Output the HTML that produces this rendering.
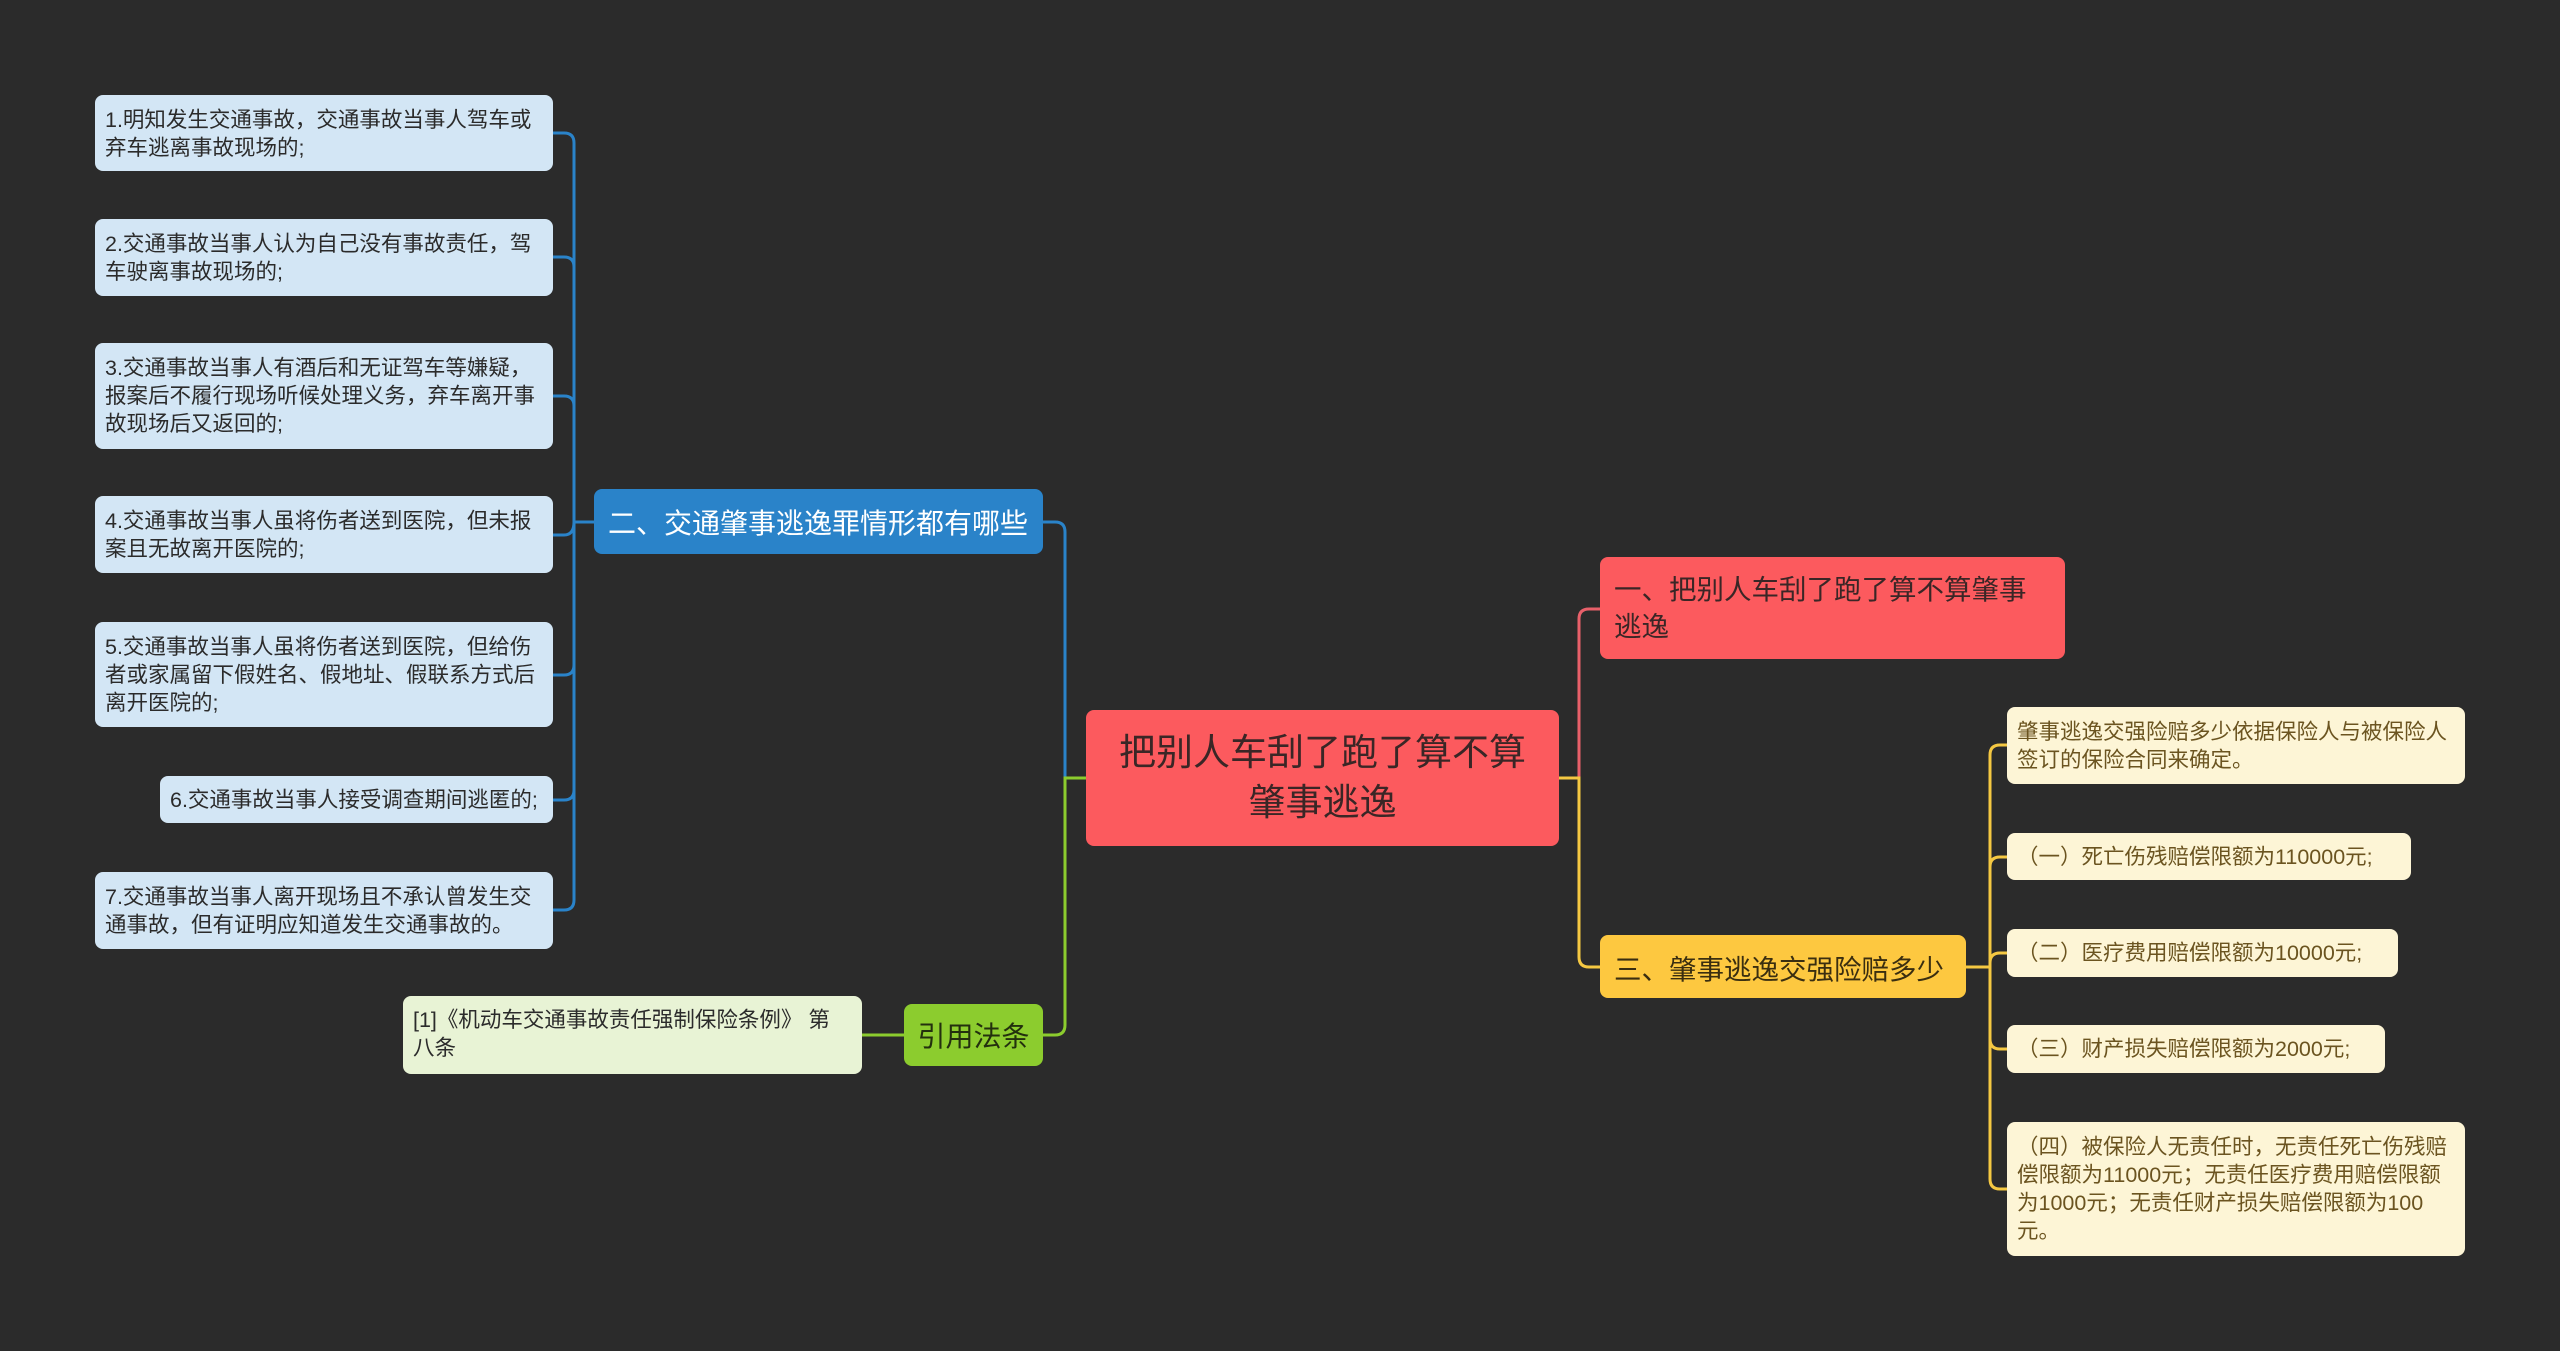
<!DOCTYPE html>
<html><head><meta charset="utf-8"><style>
html,body{margin:0;padding:0}
body{width:2560px;height:1351px;background:#2b2b2b;position:relative;overflow:hidden;font-family:"Liberation Sans","Noto Sans CJK SC",sans-serif}
.n{position:absolute;box-sizing:border-box;border-radius:8px;white-space:nowrap}
.lb{background:#d3e6f5;color:#2b2b2b;font-size:21.5px;line-height:28px;padding:11px 10px}
.cr{background:#fdf5d6;color:#6b5420;font-size:21.5px;line-height:28px;padding:11px 10px}
.c{display:flex;align-items:center}
svg{position:absolute;left:0;top:0}
</style></head><body>
<svg width="2560" height="1351" fill="none" stroke-width="3">
<path d="M1086 778 H1065 V532 Q1065 522 1055 522 H1043" stroke="#2a83c9"/>
<path d="M1086 778 H1065 V1025 Q1065 1035 1055 1035 H1043" stroke="#8ccc2e"/>
<g stroke="#2a83c9">
<path d="M594 522 H574"/>
<path d="M574 522 V143 Q574 133 564 133 H553"/>
<path d="M574 522 V267 Q574 257 564 257 H553"/>
<path d="M574 522 V406 Q574 396 564 396 H553"/>
<path d="M574 522 Q574 535 564 535 H553"/>
<path d="M574 522 V665 Q574 675 564 675 H553"/>
<path d="M574 522 V790 Q574 800 564 800 H553"/>
<path d="M574 522 V900 Q574 910 564 910 H553"/>
</g>
<path d="M904 1035 H862" stroke="#8ccc2e"/>
<path d="M1559 778 H1579 V619 Q1579 609 1589 609 H1600" stroke="#e8606a"/>
<path d="M1559 778 H1579 V957 Q1579 967 1589 967 H1600" stroke="#f5c842"/>
<g stroke="#f5c842">
<path d="M1966 967 H1990"/>
<path d="M1990 967 V755 Q1990 745 2000 745 H2007"/>
<path d="M1990 967 V867 Q1990 857 2000 857 H2007"/>
<path d="M1990 967 V963 Q1990 953 2000 953 H2007"/>
<path d="M1990 967 V1039 Q1990 1049 2000 1049 H2007"/>
<path d="M1990 967 V1179 Q1990 1189 2000 1189 H2007"/>
</g>
</svg>

<div class="n c" style="left:1086px;top:710px;width:473px;height:136px;background:#fc5a5e;color:#3a2626;font-size:37px;line-height:50px;justify-content:center;text-align:center;padding:0 10px">把别人车刮了跑了算不算<br>肇事逃逸</div>

<div class="n" style="left:1600px;top:557px;width:465px;height:102px;background:#fc5a5e;color:#3a2626;font-size:27.5px;line-height:37px;padding:14px 14px">一、把别人车刮了跑了算不算肇事<br>逃逸</div>
<div class="n c" style="left:1600px;top:935px;width:366px;height:63px;background:#fdc840;color:#3a2e10;font-size:27.5px;padding:0 14px">三、肇事逃逸交强险赔多少</div>

<div class="n cr" style="left:2007px;top:707px;width:458px;height:77px">肇事逃逸交强险赔多少依据保险人与被保险人<br>签订的保险合同来确定。</div>
<div class="n cr c" style="left:2007px;top:833px;width:404px;height:47px">（一）死亡伤残赔偿限额为110000元;</div>
<div class="n cr c" style="left:2007px;top:929px;width:391px;height:48px">（二）医疗费用赔偿限额为10000元;</div>
<div class="n cr c" style="left:2007px;top:1025px;width:378px;height:48px">（三）财产损失赔偿限额为2000元;</div>
<div class="n cr" style="left:2007px;top:1122px;width:458px;height:134px">（四）被保险人无责任时，无责任死亡伤残赔<br>偿限额为11000元；无责任医疗费用赔偿限额<br>为1000元；无责任财产损失赔偿限额为100<br>元。</div>

<div class="n c" style="left:594px;top:489px;width:449px;height:65px;background:#2a83c9;color:#fff;font-size:28px;padding:0 14px">二、交通肇事逃逸罪情形都有哪些</div>

<div class="n lb" style="left:95px;top:95px;width:458px;height:76px">1.明知发生交通事故，交通事故当事人驾车或<br>弃车逃离事故现场的;</div>
<div class="n lb" style="left:95px;top:219px;width:458px;height:77px">2.交通事故当事人认为自己没有事故责任，驾<br>车驶离事故现场的;</div>
<div class="n lb" style="left:95px;top:343px;width:458px;height:106px">3.交通事故当事人有酒后和无证驾车等嫌疑，<br>报案后不履行现场听候处理义务，弃车离开事<br>故现场后又返回的;</div>
<div class="n lb" style="left:95px;top:496px;width:458px;height:77px">4.交通事故当事人虽将伤者送到医院，但未报<br>案且无故离开医院的;</div>
<div class="n lb" style="left:95px;top:622px;width:458px;height:105px">5.交通事故当事人虽将伤者送到医院，但给伤<br>者或家属留下假姓名、假地址、假联系方式后<br>离开医院的;</div>
<div class="n lb c" style="left:160px;top:776px;width:393px;height:47px;padding-top:0;padding-bottom:0">6.交通事故当事人接受调查期间逃匿的;</div>
<div class="n lb" style="left:95px;top:872px;width:458px;height:77px">7.交通事故当事人离开现场且不承认曾发生交<br>通事故，但有证明应知道发生交通事故的。</div>

<div class="n c" style="left:904px;top:1004px;width:139px;height:62px;background:#8ccc2e;color:#23300e;font-size:28px;justify-content:center">引用法条</div>
<div class="n" style="left:403px;top:996px;width:459px;height:78px;background:#e8f3d5;color:#2b2b2b;font-size:21.5px;line-height:28px;padding:10px 10px">[1]《机动车交通事故责任强制保险条例》 第<br>八条</div>
</body></html>
